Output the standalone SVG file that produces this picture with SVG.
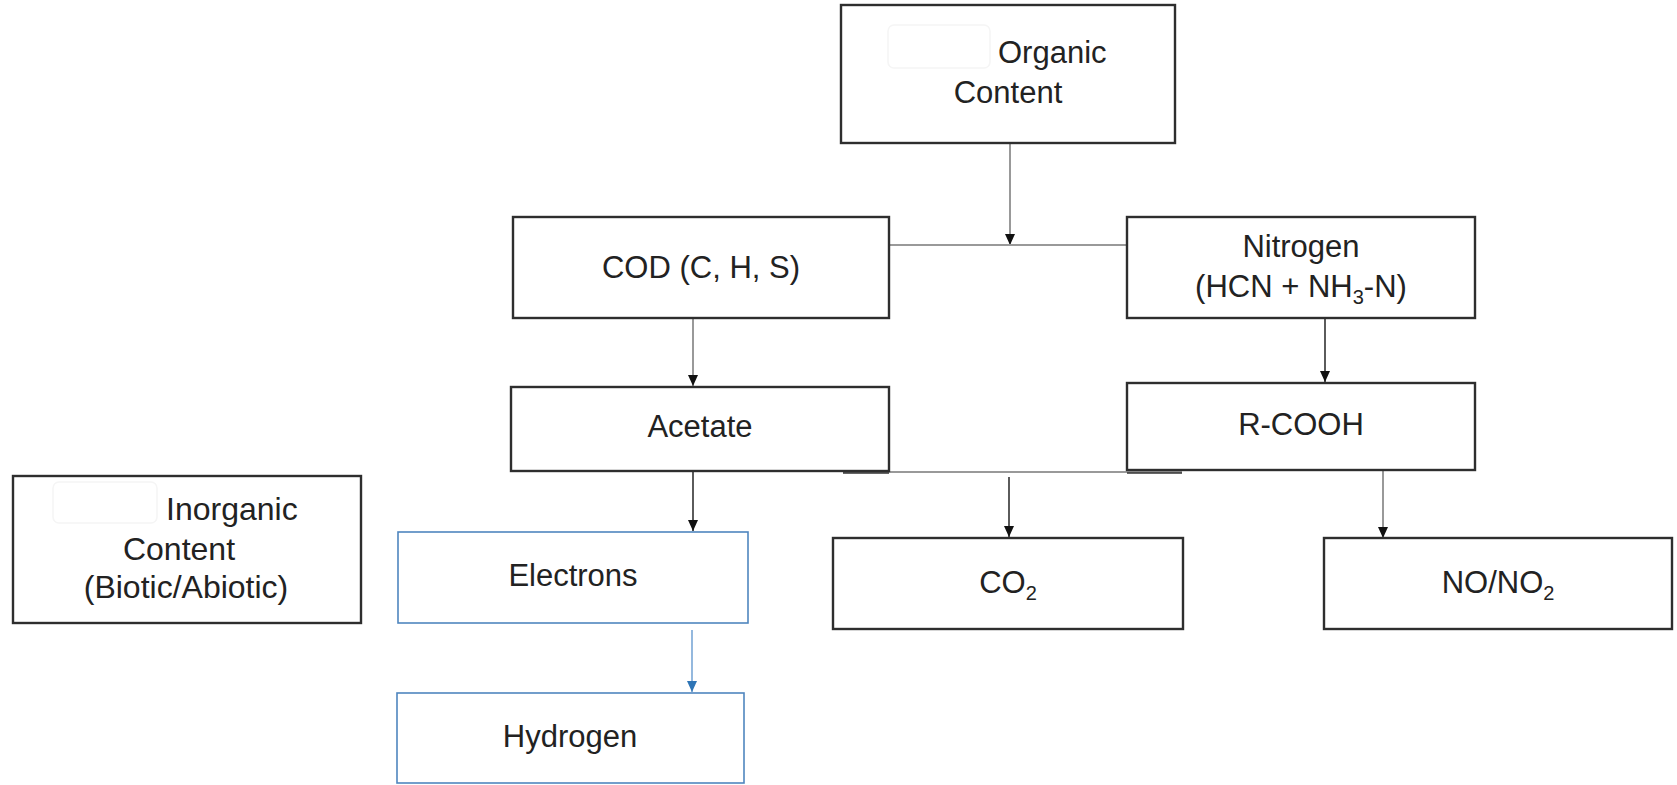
<svg xmlns="http://www.w3.org/2000/svg" width="1677" height="785" viewBox="0 0 1677 785">
<defs>
<style>
.box{fill:#fff;stroke:#2e2e2e;stroke-width:2.4}
.bbox{fill:#fff;stroke:#4f86bf;stroke-width:1.6}
.t{font-family:"Liberation Sans",Arial,sans-serif;font-size:31px;fill:#222}
.m{text-anchor:middle}
.sub{font-size:20px}
.cg{stroke:#999;stroke-width:2;fill:none}
.cd{stroke:#333;stroke-width:1.6;fill:none}
.cb{stroke:#7aa7d6;stroke-width:1.6;fill:none}
.ph{fill:none;stroke:#f5f5f5;stroke-width:1.5}
</style>
<marker id="ah" markerWidth="12" markerHeight="12" refX="11" refY="6" orient="auto" markerUnits="userSpaceOnUse"><path d="M0,1 L11,6 L0,11 z" fill="#111"/></marker>
<marker id="ahb" markerWidth="12" markerHeight="12" refX="11" refY="6" orient="auto" markerUnits="userSpaceOnUse"><path d="M0,1 L11,6 L0,11 z" fill="#2e75b6"/></marker>
</defs>
<rect width="1677" height="785" fill="#fff"/>

<g id="connectors">
<line class="cg" x1="1010" y1="143" x2="1010" y2="245" marker-end="url(#ah)"/>
<line class="cg" x1="889" y1="245" x2="1127" y2="245"/>
<line class="cg" x1="693" y1="318" x2="693" y2="386" marker-end="url(#ah)"/>
<line class="cd" x1="1325" y1="318" x2="1325" y2="382" marker-end="url(#ah)"/>
<line class="cg" x1="843" y1="472" x2="1182" y2="472"/>
<line class="cd" x1="843" y1="473" x2="889" y2="473"/>
<line class="cd" x1="1127" y1="473" x2="1182" y2="473"/>
<line class="cd" x1="1009" y1="477" x2="1009" y2="537" marker-end="url(#ah)"/>
<line class="cd" x1="693" y1="471" x2="693" y2="531" marker-end="url(#ah)"/>
<line class="cg" x1="1383" y1="470" x2="1383" y2="538" marker-end="url(#ah)"/>
<line class="cb" x1="692" y1="630" x2="692" y2="692" marker-end="url(#ahb)"/>
</g>

<g id="organic">
<rect class="box" x="841" y="5" width="334" height="138"/>
<rect class="ph" x="888" y="25" width="102" height="43" rx="6"/>
<text class="t" x="998" y="63">Organic</text>
<text class="t m" x="1008" y="103">Content</text>
</g>

<g id="cod">
<rect class="box" x="513" y="217" width="376" height="101"/>
<text class="t m" x="701" y="278">COD (C, H, S)</text>
</g>

<g id="nitrogen">
<rect class="box" x="1127" y="217" width="348" height="101"/>
<text class="t m" x="1301" y="257">Nitrogen</text>
<text class="t m" x="1301" y="297">(HCN + NH<tspan class="sub" dy="7">3</tspan><tspan dy="-7">-N)</tspan></text>
</g>

<g id="acetate">
<rect class="box" x="511" y="387" width="378" height="84"/>
<text class="t m" x="700" y="437">Acetate</text>
</g>

<g id="rcooh">
<rect class="box" x="1127" y="383" width="348" height="87"/>
<text class="t m" x="1301" y="435">R-COOH</text>
</g>

<g id="inorganic">
<rect class="box" x="13" y="476" width="348" height="147"/>
<rect class="ph" x="53" y="482" width="104" height="41" rx="6"/>
<text class="t" x="166" y="520" style="font-size:32px">Inorganic</text>
<text class="t m" x="179" y="560" style="font-size:32px">Content</text>
<text class="t m" x="186" y="598" style="font-size:32px">(Biotic/Abiotic)</text>
</g>

<g id="electrons">
<rect class="bbox" x="398" y="532" width="350" height="91"/>
<text class="t m" x="573" y="586">Electrons</text>
</g>

<g id="hydrogen">
<rect class="bbox" x="397" y="693" width="347" height="90"/>
<text class="t m" x="570" y="747">Hydrogen</text>
</g>

<g id="co2">
<rect class="box" x="833" y="538" width="350" height="91"/>
<text class="t m" x="1008" y="593">CO<tspan class="sub" dy="7">2</tspan></text>
</g>

<g id="nono2">
<rect class="box" x="1324" y="538" width="348" height="91"/>
<text class="t m" x="1498" y="593">NO/NO<tspan class="sub" dy="7">2</tspan></text>
</g>
</svg>
